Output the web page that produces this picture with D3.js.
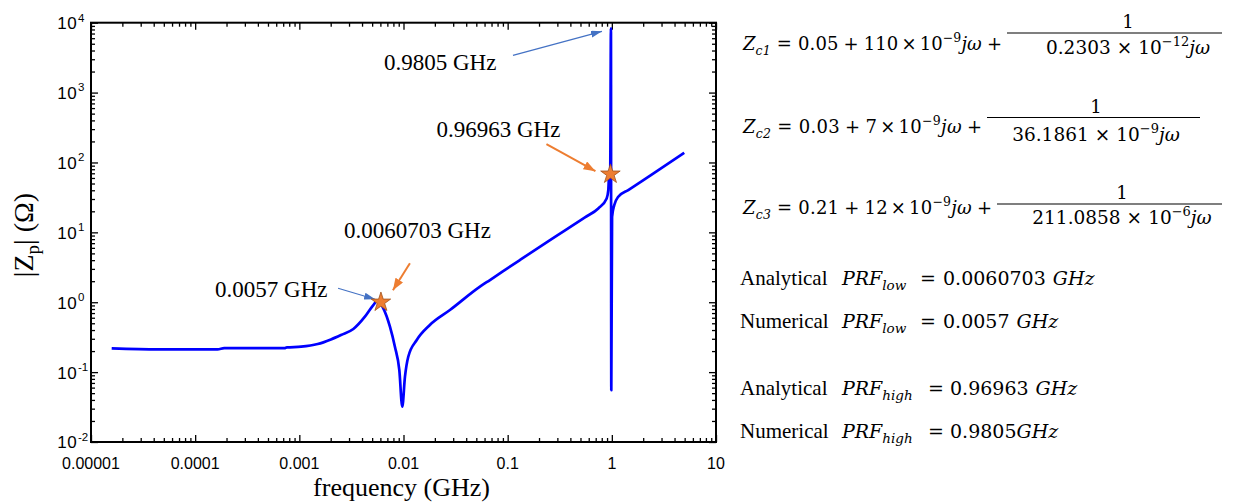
<!DOCTYPE html>
<html><head><meta charset="utf-8">
<script src="https://cdn.jsdelivr.net/npm/d3@7"></script>
<style>body{margin:0;background:#fff;}svg{display:block;}</style>
</head><body>
<svg id="c" width="1236" height="504"></svg>
<script>
// ---------- data ----------
const freqGHz = [1.58e-5, 4.4e-5, 1.64e-4, 1.9e-4, 7.2e-4, 7.6e-4, 1.04e-3, 1.5e-3, 2.01e-3, 2.51e-3,
  3.3e-3, 4.26e-3, 5.13e-3, 5.6e-3, 6.4e-3, 7.41e-3, 8.27e-3, 9.12e-3, 9.73e-3, 1.033e-2,
  1.111e-2, 1.34e-2, 1.79e-2, 2.79e-2, 5.42e-2, 6.76e-2, 0.131, 0.255, 0.552, 0.741,
  0.892, 0.925, 0.939, 0.965, 0.9805, 0.988, 1.005, 1.056, 1.153, 1.438, 2.413, 4.96];
const impedance = [0.219, 0.212, 0.212, 0.22, 0.22, 0.226, 0.231, 0.252, 0.294, 0.34,
  0.414, 0.621, 0.912, 1.05, 0.818, 0.447, 0.231, 0.107, 0.032, 0.086,
  0.166, 0.288, 0.472, 0.773, 1.67, 2.08, 4.02, 7.76, 16.4, 22.0,
  30.6, 40.3, 62.5, 75, 8300, 0.055, 16.7, 24.6, 32.3, 40.3, 67, 137.7];
const xTickValues = [1e-5, 1e-4, 1e-3, 1e-2, 1e-1, 1, 10];
const xTickLabels = ["0.00001", "0.0001", "0.001", "0.01", "0.1", "1", "10"];
const yTickValues = [1e-2, 1e-1, 1, 10, 100, 1000, 10000];
const yTickExponents = ["-2", "-1", "0", "1", "2", "3", "4"];
const markerFreq = [0.0060703, 0.96963];   // analytical PRF (stars)
const markerZ = [1.0, 68];
const numericFreq = [0.0057, 0.9805];      // numerical PRF
const numericZ = [1.0, 8300];
const lowLabels = ["0.0057 GHz", "0.0060703 GHz"];
const highLabels = ["0.9805 GHz", "0.96963 GHz"];

// ---------- setup ----------
const svg = d3.select("#c");
const L = 91, R = 716, T = 22.7, B = 442;
const x = d3.scaleLog().domain([1e-5, 10]).range([L, R]);
const y = d3.scaleLog().domain([1e-2, 1e4]).range([B, T]);
const SANS = "'Liberation Sans', Arial, sans-serif";
const SERIF = "'Liberation Serif', 'Times New Roman', serif";
const MATH = "'DejaVu Serif', serif";
const BLUE_A = "#4472C4", ORANGE = "#ED7D31";

const minorX = []; for (let d = -5; d < 1; d++) for (let k = 2; k <= 9; k++) minorX.push(k * Math.pow(10, d));
const minorY = []; for (let d = -2; d < 4; d++) for (let k = 2; k <= 9; k++) minorY.push(k * Math.pow(10, d));

function axisG(axis, tr) {
  const g = svg.append("g").attr("transform", tr).call(axis);
  g.select(".domain").remove();
  g.selectAll(".tick line").attr("stroke", "#000").attr("stroke-width", 1.3);
  g.selectAll(".tick text").remove();
  return g;
}
axisG(d3.axisBottom(x).tickValues(xTickValues).tickSize(-7), `translate(0,${B})`);
axisG(d3.axisBottom(x).tickValues(minorX).tickSize(-4), `translate(0,${B})`);
axisG(d3.axisTop(x).tickValues(xTickValues).tickSize(-7), `translate(0,${T})`);
axisG(d3.axisTop(x).tickValues(minorX).tickSize(-4), `translate(0,${T})`);
axisG(d3.axisLeft(y).tickValues(yTickValues).tickSize(-7), `translate(${L},0)`);
axisG(d3.axisLeft(y).tickValues(minorY).tickSize(-4), `translate(${L},0)`);
axisG(d3.axisRight(y).tickValues(yTickValues).tickSize(-7), `translate(${R},0)`);
axisG(d3.axisRight(y).tickValues(minorY).tickSize(-4), `translate(${R},0)`);

svg.append("rect").attr("x", L).attr("y", T).attr("width", R - L).attr("height", B - T)
  .attr("fill", "none").attr("stroke", "#000").attr("stroke-width", 2);

// x tick labels
svg.append("g").selectAll("text").data(xTickValues).join("text")
  .attr("x", d => x(d)).attr("y", B + 26.5).attr("text-anchor", "middle")
  .attr("font-family", SANS).attr("font-size", 16).text((d, i) => xTickLabels[i]);
// y tick labels 10^n
const yl = svg.append("g").selectAll("g").data(yTickValues).join("g");
yl.append("text").attr("x", 77.3).attr("y", d => y(d) + 6.4).attr("text-anchor", "end")
  .attr("font-family", SANS).attr("font-size", 17).attr("letter-spacing", 0.6).text("10");
yl.append("text").attr("x", 78).attr("y", d => y(d) - 1.2)
  .attr("font-family", SANS).attr("font-size", 11.5).text((d, i) => yTickExponents[i]);

// axis titles
svg.append("text").attr("x", 401.5).attr("y", 496).attr("text-anchor", "middle")
  .attr("font-family", SERIF).attr("font-size", 26).text("frequency (GHz)");
const yt = svg.append("text").attr("transform", "translate(33,235) rotate(-90)")
  .attr("text-anchor", "middle").attr("font-family", SERIF).attr("font-size", 28);
yt.append("tspan").text("|Z");
yt.append("tspan").attr("font-size", 19).attr("dy", 6).text("p");
yt.append("tspan").attr("dy", -6).text("| (Ω)");

// ---------- curve ----------
const line = d3.line().curve(d3.curveMonotoneX)
  .x((d, i) => x(freqGHz[i])).y((d, i) => y(impedance[i]));
svg.append("path").datum(freqGHz).attr("d", line).attr("fill", "none")
  .attr("stroke", "#0000FF").attr("stroke-width", 2.7).attr("stroke-linejoin", "round");

// ---------- arrows ----------
const defs = svg.append("defs");
function mk(id, color, len, wid) {
  defs.append("marker").attr("id", id).attr("markerUnits", "userSpaceOnUse")
    .attr("viewBox", `0 0 ${len} ${wid}`).attr("markerWidth", len).attr("markerHeight", wid)
    .attr("refX", len).attr("refY", wid / 2).attr("orient", "auto")
    .append("path").attr("d", `M0,0L${len},${wid / 2}L0,${wid}Z`).attr("fill", color);
}
mk("ab", BLUE_A, 11, 7);
mk("ao", ORANGE, 12, 9);
function arrow(x1, y1, x2, y2, color, w, m) {
  svg.append("line").attr("x1", x1).attr("y1", y1).attr("x2", x2).attr("y2", y2)
    .attr("stroke", color).attr("stroke-width", w).attr("marker-end", `url(#${m})`);
}
const pxN0 = x(numericFreq[0]), pyN0 = y(numericZ[0]);
const pxA0 = x(markerFreq[0]), pyA0 = y(markerZ[0]);
arrow(pxN0 - 40, pyN0 - 14, pxN0 - 3, pyN0 - 3, BLUE_A, 1.2, "ab");
arrow(pxA0 + 29, pyA0 - 39, pxA0 + 12, pyA0 - 12, ORANGE, 2, "ao");
const pxN1 = x(numericFreq[1]), pyN1 = y(numericZ[1]);
const pxA1 = x(markerFreq[1]), pyA1 = y(markerZ[1]);
arrow(pxN1 - 98, pyN1 + 27, pxN1 - 9, pyN1 + 3, BLUE_A, 1.2, "ab");
arrow(pxA1 - 64, pyA1 - 30, pxA1 - 15, pyA1 - 3, ORANGE, 2, "ao");

// stars
const star = d3.symbol(d3.symbolStar, 118);
svg.append("g").selectAll("path").data(markerFreq).join("path")
  .attr("transform", (d, i) => `translate(${x(d)},${y(markerZ[i])})`)
  .attr("d", star).attr("fill", ORANGE).attr("stroke", "#A0521C").attr("stroke-width", 0.8);

// annotation texts
function ann(tx, ty, s) {
  svg.append("text").attr("x", tx).attr("y", ty).attr("font-family", SERIF)
    .attr("font-size", 23).text(s);
}
ann(pxN0 - 163, pyN0 - 5, lowLabels[0]);
ann(pxA0 - 37, pyA0 - 64, lowLabels[1]);
ann(pxN1 - 227, pyN1 + 42, highLabels[0]);
ann(pxA1 - 174, pyA1 - 37, highLabels[1]);

// ---------- equations on the right ----------
function flow(t, parts, small) {
  let shift = 0;
  parts.forEach(([s, o = {}]) => {
    const target = o.sub ? 5 : o.sup ? -8 : 0;
    const ts = t.append("tspan").text(s).attr("dy", target - shift);
    if (o.dx) ts.attr("dx", o.dx);
    if (o.it) ts.attr("font-style", "italic");
    if (o.sub || o.sup) ts.attr("font-size", small);
    shift = target;
  });
}
function mathText(xx, yb, fs, anchor) {
  const t = svg.append("text").attr("x", xx).attr("y", yb)
    .attr("font-family", MATH).attr("font-size", fs);
  if (anchor) t.attr("text-anchor", anchor);
  return t;
}
function equation(b, sub, c0, c1, ex, mainW, bar, cx, denY, denNum, denExp) {
  const m = mathText(743, b, 18).attr("textLength", mainW).attr("lengthAdjust", "spacing");
  flow(m, [["Z", { it: 1 }], [sub, { it: 1, sub: 1 }], ["=", { dx: 6 }], [c0, { dx: 6 }],
    ["+", { dx: 5 }], [c1, { dx: 5 }], ["×", { dx: 3 }], ["10", { dx: 3 }], [ex, { sup: 1 }],
    ["jω", { it: 1 }], ["+", { dx: 5 }]], 12.5);
  svg.append("line").attr("x1", bar[0]).attr("x2", bar[1]).attr("y1", bar[2]).attr("y2", bar[2])
    .attr("stroke", "#000").attr("stroke-width", 1.1);
  mathText(cx, bar[2] - 5, 18, "middle").text("1");
  const d = mathText(cx, denY, 18.5, "middle");
  flow(d, [[denNum], ["×", { dx: 6 }], ["10", { dx: 6 }], [denExp, { sup: 1 }], ["jω", { it: 1 }]], 13);
}
equation(50, "c1", "0.05", "110", "−9", 259, [1007, 1222, 33], 1128, 54, "0.2303", "−12");
equation(133, "c2", "0.03", "7", "−9", 239, [987, 1200, 117.5], 1096, 141, "36.1861", "−9");
equation(214, "c3", "0.21", "12", "−9", 249, [997, 1222, 204], 1122, 224, "211.0858", "−6");

// PRF rows
function prfRow(b, word, sub, eqx, val, valx, gap) {
  svg.append("text").attr("x", 740).attr("y", b).attr("font-family", SERIF)
    .attr("font-size", 21).text(word);
  const t = mathText(842, b, 19).attr("font-style", "italic");
  flow(t, [["PRF"], [sub, { sub: 1 }]], 13.5);
  mathText(eqx, b, 19).text("=");
  const v = mathText(valx, b, 19);
  flow(v, [[val], ["GHz", { it: 1, dx: gap }]], 13);
}
prfRow(285, "Analytical", "low", 920, "0.0060703", 943, 7);
prfRow(328, "Numerical", "low", 920, "0.0057", 943, 7);
prfRow(395, "Analytical", "high", 928, "0.96963", 950, 7);
prfRow(438, "Numerical", "high", 928, "0.9805", 950, 0);
</script>
</body></html>
